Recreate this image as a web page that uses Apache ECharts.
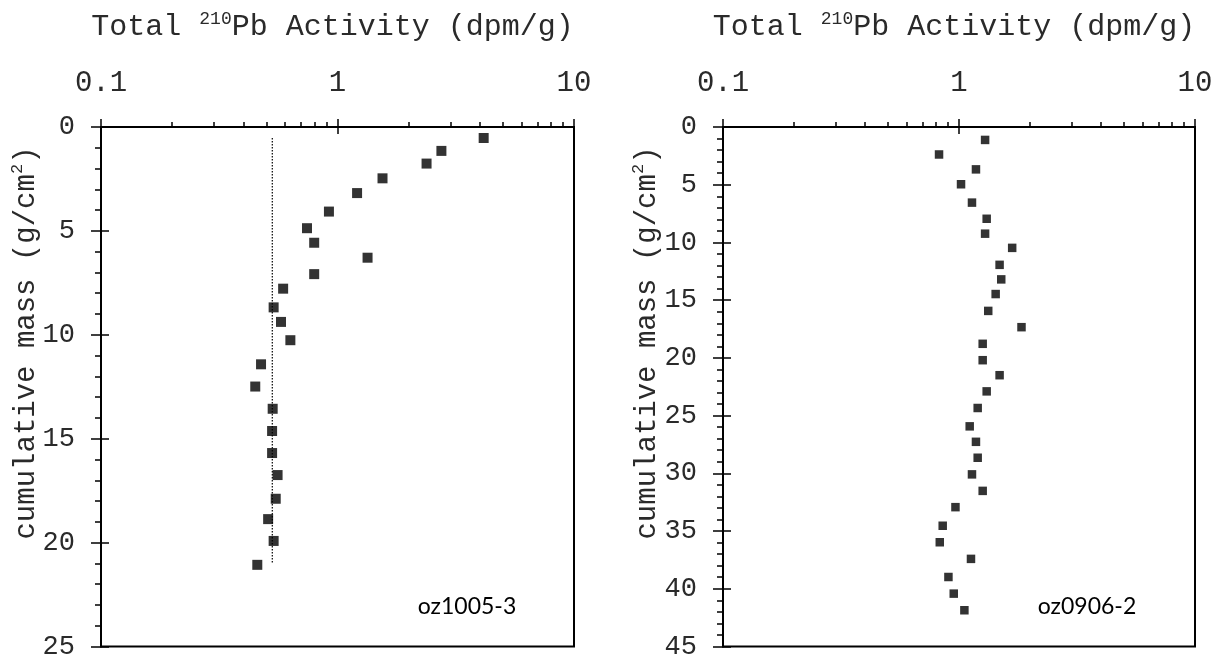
<!DOCTYPE html>
<html><head><meta charset="utf-8">
<script src="https://cdn.jsdelivr.net/npm/echarts@6/dist/echarts.min.js"></script>
<style>html,body{margin:0;padding:0;background:#fff}#c{width:1225px;height:660px}</style>
</head><body><div id="c"></div>
<script>
// ---- data ----
const leftActivity = [4.15, 2.75, 2.38, 1.55, 1.21, 0.92, 0.743, 0.797, 1.34, 0.797, 0.589, 0.537, 0.577, 0.632, 0.475, 0.449, 0.532, 0.529, 0.529, 0.558, 0.548, 0.509, 0.537, 0.458];
const leftMass     = [0.53, 1.15, 1.76, 2.47, 3.18, 4.07, 4.87, 5.57, 6.29, 7.08, 7.78, 8.68, 9.38, 10.26, 11.42, 12.49, 13.56, 14.63, 15.69, 16.75, 17.89, 18.87, 19.92, 21.07];
const supportedActivity = 0.53;
const supportedMassRange = [0.53, 21.0];
const rightActivity = [1.29, 0.823, 1.18, 1.02, 1.135, 1.31, 1.29, 1.68, 1.486, 1.51, 1.43, 1.33, 1.84, 1.26, 1.26, 1.486, 1.31, 1.2, 1.11, 1.18, 1.2, 1.135, 1.26, 0.966, 0.853, 0.829, 1.124, 0.902, 0.95, 1.054];
const rightMass     = [1.12, 2.38, 3.67, 4.96, 6.55, 7.95, 9.24, 10.47, 11.94, 13.2, 14.47, 15.93, 17.34, 18.78, 20.2, 21.5, 22.9, 24.34, 25.93, 27.27, 28.65, 30.09, 31.52, 32.93, 34.54, 35.97, 37.41, 38.98, 40.42, 41.86];
const xTickLabels = [0.1, 1, 10];
const xMinorTicks = [0.2, 0.3, 0.4, 0.5, 0.6, 0.7, 0.8, 0.9, 2, 3, 4, 5, 6, 7, 8, 9];
const yMaxLeft = 25, yMaxRight = 45, yInterval = 5;
const sampleLeft = 'oz1005-3', sampleRight = 'oz0906-2';
const xTitle = 'Total {sup|210}Pb Activity (dpm/g)';
const yTitle = 'cumulative mass (g/cm{sup|2})';

// ---- styles ----
const MONO = '"Liberation Mono", "DejaVu Sans Mono", monospace';
const TXT = '#2a2a2a';
const grids = [
  {left: 101, top: 127, width: 473, height: 523, show: true, borderColor: '#000', borderWidth: 2},
  {left: 723, top: 127, width: 472, height: 522, show: true, borderColor: '#000', borderWidth: 2}
];
const richSup = {sup: {fontFamily: MONO, fontSize: 18, color: TXT, fill: TXT, verticalAlign: 'top', lineHeight: 20}};

function xAxesFor(gi) {
  const base = {type: 'log', logBase: 10, gridIndex: gi, min: 0.1, max: 10, position: 'top',
    splitLine: {show: false}, minorTick: {show: false}, minorSplitLine: {show: false}};
  return [
    Object.assign({}, base, {
      axisLine: {show: true, onZero: false, lineStyle: {color: '#000', width: 2}},
      axisTick: {show: true, inside: false, length: 8, customValues: xTickLabels, lineStyle: {color: '#000', width: 1.5}},
      axisLabel: {show: true, customValues: xTickLabels, margin: 29, formatter: v => String(+Number(v).toPrecision(3)),
        fontFamily: MONO, fontSize: 29, color: TXT},
      name: xTitle, nameLocation: 'middle', nameGap: 83,
      nameTextStyle: {fontFamily: MONO, fontSize: 30, color: TXT, lineHeight: 34, padding: [0, 10, 0, 0], rich: richSup}
    }),
    Object.assign({}, base, {
      axisLine: {show: false, onZero: false},
      axisTick: {show: true, inside: true, length: 7, customValues: xTickLabels, lineStyle: {color: '#000', width: 1.5}},
      axisLabel: {show: false}
    }),
    Object.assign({}, base, {
      axisLine: {show: false, onZero: false},
      axisTick: {show: true, inside: false, length: 5, customValues: xMinorTicks, lineStyle: {color: '#000', width: 1.5}},
      axisLabel: {show: false}
    })
  ];
}
function yAxesFor(gi, maxV) {
  const base = {type: 'value', gridIndex: gi, inverse: true, min: 0, max: maxV, interval: yInterval, position: 'left',
    splitLine: {show: false}, minorSplitLine: {show: false}};
  return [
    Object.assign({}, base, {
      axisLine: {show: true, onZero: false, lineStyle: {color: '#000', width: 2}},
      axisTick: {show: true, inside: false, length: 10, lineStyle: {color: '#000', width: 1.5}},
      minorTick: {show: true, splitNumber: 5, length: 6, lineStyle: {color: '#000', width: 1.5}},
      axisLabel: {show: true, margin: 26, fontFamily: MONO, fontSize: 27, color: TXT}
    }),
    Object.assign({}, base, {
      axisLine: {show: false, onZero: false},
      axisTick: {show: true, inside: true, length: 8, lineStyle: {color: '#000', width: 1.5}},
      minorTick: {show: false},
      axisLabel: {show: false}
    })
  ];
}

const xAxis = xAxesFor(0).concat(xAxesFor(1));
const yAxis = yAxesFor(0, yMaxLeft).concat(yAxesFor(1, yMaxRight));

const leftPts = leftActivity.map((v, i) => [v, leftMass[i]]);
const rightPts = rightActivity.map((v, i) => [v, rightMass[i]]);
const supportedLine = supportedMassRange.map(m => [supportedActivity, m]);

function yTitleGraphic(x) {
  return {type: 'text', x: x, y: 343, rotation: Math.PI / 2, silent: true,
    style: {text: yTitle, fontFamily: MONO, fontSize: 29, fill: TXT, align: 'center', verticalAlign: 'middle',
      lineHeight: 34, rich: {sup: {fontFamily: MONO, fontSize: 17, fill: TXT, verticalAlign: 'top', lineHeight: 20}}}};
}
function sampleGraphic(x, t) {
  return {type: 'text', x: x, y: 607, silent: true,
    style: {text: t, fontFamily: 'Lato, "Open Sans", sans-serif', fontSize: 23, fill: '#000', align: 'center', verticalAlign: 'middle'}};
}

const option = {
  animation: false,
  backgroundColor: '#fff',
  grid: grids,
  xAxis: xAxis,
  yAxis: yAxis,
  graphic: [yTitleGraphic(26), yTitleGraphic(647), sampleGraphic(467, sampleLeft), sampleGraphic(1087, sampleRight)],
  series: [
    {type: 'line', xAxisIndex: 0, yAxisIndex: 0, data: supportedLine, symbol: 'none', silent: true,
      lineStyle: {color: '#000', width: 1.2, type: [1.5, 1.5]}, z: 1},
    {type: 'scatter', xAxisIndex: 0, yAxisIndex: 0, data: leftPts, symbol: 'rect', symbolSize: 10,
      itemStyle: {color: '#000'}, z: 3},
    {type: 'scatter', xAxisIndex: 3, yAxisIndex: 2, data: rightPts, symbol: 'rect', symbolSize: 8.5,
      itemStyle: {color: '#000'}, z: 3}
  ]
};
const chart = echarts.init(document.getElementById('c'), null, {renderer: 'canvas'});
chart.setOption(option);
</script></body></html>
